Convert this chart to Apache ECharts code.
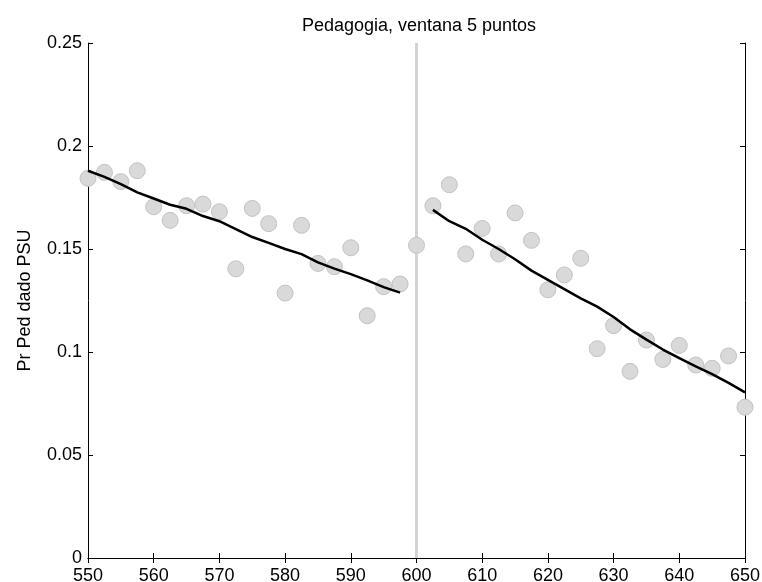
<!DOCTYPE html>
<html>
<head>
<meta charset="utf-8">
<script src="https://cdn.jsdelivr.net/npm/echarts@6/dist/echarts.min.js"></script>
<style>
  html, body { margin: 0; padding: 0; background: #fff; }
  #chart { width: 762px; height: 582px; }
</style>
</head>
<body>
<div id="chart"></div>
<script>
// puntos observados (promedio por ventana)
var leftX = [550, 552.5, 555, 557.5, 560, 562.5, 565, 567.5, 570, 572.5, 575, 577.5, 580, 582.5, 585, 587.5, 590, 592.5, 595, 597.5];
var leftY = [0.1843, 0.1872, 0.1827, 0.188, 0.1705, 0.1639, 0.171, 0.1718, 0.1681, 0.1404, 0.1697, 0.1623, 0.1286, 0.1615, 0.143, 0.1414, 0.1506, 0.1176, 0.1317, 0.133];
var rightX = [600, 602.5, 605, 607.5, 610, 612.5, 615, 617.5, 620, 622.5, 625, 627.5, 630, 632.5, 635, 637.5, 640, 642.5, 645, 647.5, 650];
var rightY = [0.1518, 0.171, 0.1812, 0.1476, 0.16, 0.1476, 0.1675, 0.1542, 0.1302, 0.1374, 0.1455, 0.1016, 0.1128, 0.0906, 0.1058, 0.0964, 0.1032, 0.0937, 0.0921, 0.0981, 0.0732];

// ajuste local (linea negra)
var fitLeftY = [0.188, 0.185, 0.1815, 0.1775, 0.1745, 0.1715, 0.1695, 0.166, 0.1635, 0.1597, 0.1558, 0.153, 0.15, 0.1475, 0.1435, 0.1405, 0.1378, 0.1348, 0.1315, 0.1288];
var fitRightX = [602.5, 605, 607.5, 610, 612.5, 615, 617.5, 620, 622.5, 625, 627.5, 630, 632.5, 635, 637.5, 640, 642.5, 645, 647.5, 650];
var fitRightY = [0.169, 0.1635, 0.1598, 0.1545, 0.15, 0.145, 0.1395, 0.135, 0.1305, 0.126, 0.122, 0.117, 0.111, 0.106, 0.1012, 0.097, 0.093, 0.0893, 0.085, 0.0804];

// corte
var cutX = [600, 600];
var cutY = [0, 0.25];

function zip(xs, ys) {
  var out = [];
  for (var i = 0; i < xs.length; i++) out.push([xs[i], ys[i]]);
  return out;
}

var font = 'Arial, "Liberation Sans", sans-serif';
var chart = echarts.init(document.getElementById('chart'));

var axisCommon = {
  axisLine: { show: true, lineStyle: { color: '#000', width: 1 } },
  axisTick: { show: true, inside: true, length: 5, lineStyle: { color: '#000' } },
  splitLine: { show: false }
};

chart.setOption({
  animation: false,
  backgroundColor: '#fff',
  title: {
    text: 'Pedagogia, ventana 5 puntos',
    left: 414, top: 12, textAlign: 'center',
    textStyle: { fontFamily: font, fontSize: 18, fontWeight: 'normal', color: '#000' }
  },
  grid: { left: 88, right: 17, top: 43, bottom: 24, containLabel: false, outerBoundsMode: 'none' },
  xAxis: [
    Object.assign({
      type: 'value', min: 550, max: 650, interval: 10, position: 'bottom',
      axisLabel: { fontFamily: font, fontSize: 18, color: '#000', margin: 9 }
    }, axisCommon),
    Object.assign({
      type: 'value', min: 550, max: 650, interval: 10, position: 'top',
      axisLabel: { show: false }
    }, axisCommon)
  ],
  yAxis: [
    Object.assign({
      type: 'value', min: 0, max: 0.25, interval: 0.05, position: 'left',
      name: 'Pr Ped dado PSU', nameLocation: 'middle', nameGap: 54,
      nameTextStyle: { fontFamily: font, fontSize: 18, color: '#000' },
      axisLabel: { fontFamily: font, fontSize: 18, color: '#000', margin: 6 }
    }, axisCommon),
    Object.assign({
      type: 'value', min: 0, max: 0.25, interval: 0.05, position: 'right',
      axisLabel: { show: false }
    }, axisCommon)
  ],
  series: [
    {
      type: 'line', data: zip(cutX, cutY), symbol: 'none',
      lineStyle: { color: '#d3d3d3', width: 3 }, z: 1
    },
    {
      type: 'scatter', data: zip(leftX, leftY), symbolSize: 16,
      itemStyle: { color: '#d9d9d9', borderColor: '#c3c3c3', borderWidth: 1, opacity: 1 }, z: 2
    },
    {
      type: 'scatter', data: zip(rightX, rightY), symbolSize: 16,
      itemStyle: { color: '#d9d9d9', borderColor: '#c3c3c3', borderWidth: 1, opacity: 1 }, z: 2
    },
    {
      type: 'line', data: zip(leftX, fitLeftY), symbol: 'none',
      lineStyle: { color: '#000', width: 2.5 }, z: 3
    },
    {
      type: 'line', data: zip(fitRightX, fitRightY), symbol: 'none',
      lineStyle: { color: '#000', width: 2.5 }, z: 3
    }
  ]
});
</script>
</body>
</html>
